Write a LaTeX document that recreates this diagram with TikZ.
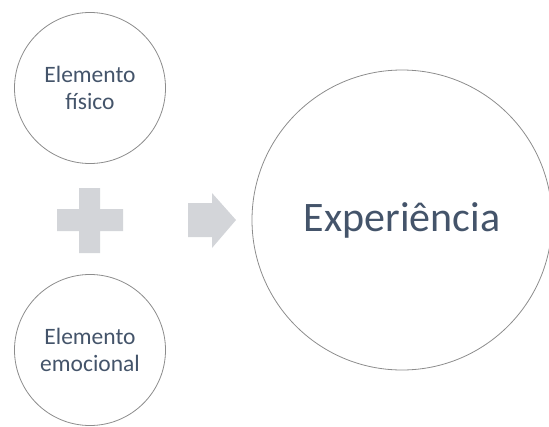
\documentclass[tikz,border=0pt]{standalone}
\usepackage{fontspec}
\setmainfont{Carlito}
\definecolor{txtblue}{HTML}{44546A}
\definecolor{ringgray}{HTML}{8C8C8C}
\definecolor{shapegray}{HTML}{D3D5D9}
\begin{document}
\begin{tikzpicture}[x=1pt,y=-1pt,
	ring/.style={circle, draw=ringgray, line width=0.8pt, inner sep=0pt, align=center, text=txtblue},
	small/.style={ring, minimum size=151pt, font=\fontsize{23.5}{27}\selectfont},
	big/.style={ring, minimum size=300pt, font=\fontsize{42}{48}\selectfont},
	flat/.style={fill=shapegray, draw=none}]
	\useasboundingbox (0,0) rectangle (549,426);
	
	%Nodes
	\node[small]	(fisico)		at (90,88)	{Elemento\\físico};
	\node[small]	(emocional)	at (90,350)	{Elemento\\emocional};
	\node[big]		(experiencia)	at (402,220)	{Experiência};
	
	%Shapes
	\fill[flat] (79,188) -- (100,188) -- (100,209) -- (123,209) -- (123,231) -- (100,231)
		-- (100,253) -- (79,253) -- (79,231) -- (57,231) -- (57,209) -- (79,209) -- cycle;
	\fill[flat] (188,203) -- (212,203) -- (212,193) -- (236,220) -- (212,248) -- (212,237)
		-- (188,237) -- cycle;
\end{tikzpicture}
\end{document}
